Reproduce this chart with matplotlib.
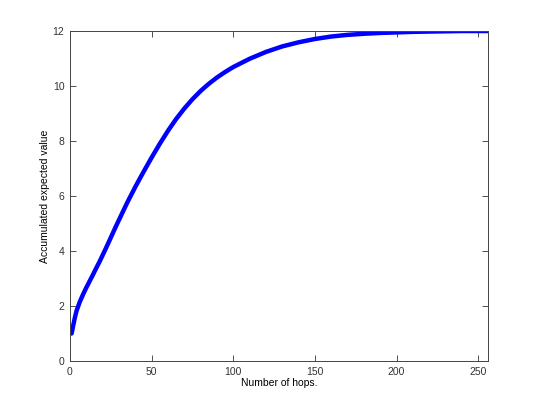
import matplotlib
matplotlib.use("Agg")
import matplotlib.pyplot as plt

# values
hops = [1, 2, 3, 4, 6, 8, 10, 12, 14, 16, 18, 20, 22, 24, 26, 28, 30, 32, 34,
        36, 38, 40, 43, 46, 50, 55, 60, 65, 70, 75, 80, 85, 90, 95, 100, 110,
        120, 130, 140, 150, 160, 170, 180, 190, 200, 210, 220, 230, 240, 256]
expected = [1.00, 1.30, 1.58, 1.82, 2.15, 2.42, 2.67, 2.90, 3.13, 3.37, 3.60,
            3.85, 4.10, 4.36, 4.62, 4.88, 5.13, 5.38, 5.63, 5.87, 6.10, 6.33,
            6.66, 6.98, 7.40, 7.90, 8.37, 8.80, 9.18, 9.52, 9.82, 10.08, 10.31,
            10.51, 10.69, 10.99, 11.24, 11.44, 11.59, 11.71, 11.80, 11.86,
            11.90, 11.93, 11.95, 11.97, 11.98, 11.99, 12.00, 12.00]
xticks = [0, 50, 100, 150, 200, 250]
yticks = [0, 2, 4, 6, 8, 10, 12]

plt.rcParams['font.family'] = ['Liberation Sans', 'DejaVu Sans']
fig = plt.figure(figsize=(5.4, 4.05), dpi=100)
ax = fig.add_axes([0.1296, 0.1086, 0.7741, 0.8148])

ax.plot(hops, expected, color=(0, 0, 1), linewidth=3.2,
        solid_capstyle='round', solid_joinstyle='round')

ax.set_xlim(0, 256)
ax.set_ylim(0, 12)
ax.set_xticks(xticks)
ax.set_yticks(yticks)
ax.tick_params(direction='in', top=True, right=True, length=4, width=0.6,
               labelsize=7.5, colors='#333333', pad=4)
for s in ax.spines.values():
    s.set_color('#444444')
    s.set_linewidth(0.7)
ax.set_xlabel("Number of hops.", fontsize=7.5, labelpad=1)
ax.set_ylabel("Accumulated expected value", fontsize=7.5, labelpad=2)

fig.savefig("out.png", dpi=100)
